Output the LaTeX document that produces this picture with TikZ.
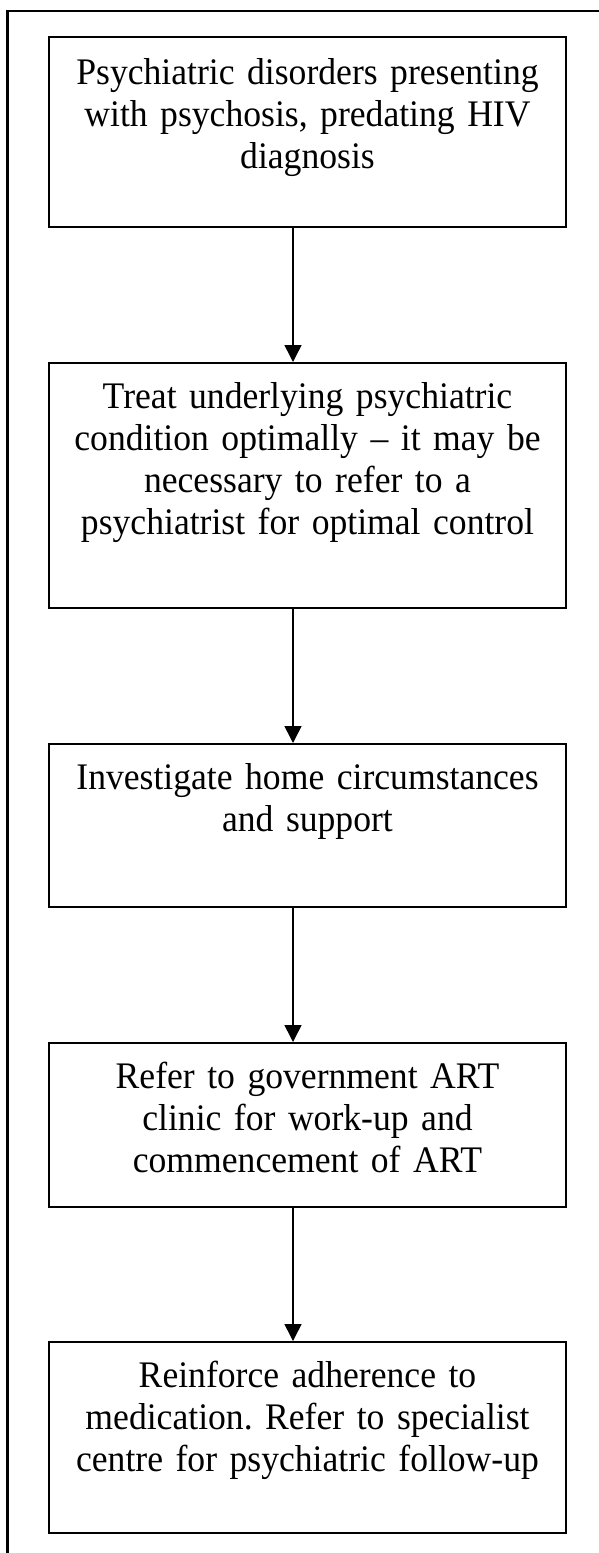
\documentclass[tikz,border=0pt]{standalone}
\usepackage{fontspec}
\setmainfont[FakeStretch=0.95]{Liberation Serif}
\usetikzlibrary{arrows.meta}
\begin{document}
\frenchspacing
\begin{tikzpicture}[x=1pt,y=-1pt,
  stepbox/.style={draw=black, line width=1.6pt, inner xsep=0pt, inner ysep=0pt,
    text width=517pt, align=center, anchor=north,
    font=\fontsize{37.5}{42}\selectfont\frenchspacing, text height=46pt},
  flow/.style={line width=1.5pt, -{Triangle[width=17pt,length=17pt]}},
  frameline/.style={line width=2.2pt}
]
\useasboundingbox (0,0) rectangle (598,1553);
\draw[frameline] (600,11) -- (7.5,11) -- (7.5,1556);

\node[stepbox, text height=48pt, text depth=142pt] (b1) at (307.5,36)
  {Psychiatric disorders presenting\\ with psychosis, predating HIV\\ diagnosis};
\node[stepbox, text depth=199pt] (b2) at (307.5,362)
  {Treat underlying psychiatric\\ condition optimally -- it may be\\ necessary to refer to a\\ psychiatrist for optimal control};
\node[stepbox, text depth=117pt] (b3) at (307.5,743)
  {Investigate home circumstances\\ and support};
\node[stepbox, text depth=118pt] (b4) at (307.5,1042)
  {Refer to government ART\\ clinic for work-up and\\ commencement of ART};
\node[stepbox, text depth=145pt] (b5) at (307.5,1341)
  {Reinforce adherence to\\ medication. Refer to specialist\\ centre for psychiatric follow-up};

\draw[flow] ([xshift=-14.5pt]b1.south) -- ([xshift=-14.5pt]b2.north);
\draw[flow] ([xshift=-14.5pt]b2.south) -- ([xshift=-14.5pt]b3.north);
\draw[flow] ([xshift=-14.5pt]b3.south) -- ([xshift=-14.5pt]b4.north);
\draw[flow] ([xshift=-14.5pt]b4.south) -- ([xshift=-14.5pt]b5.north);
\end{tikzpicture}
\end{document}
